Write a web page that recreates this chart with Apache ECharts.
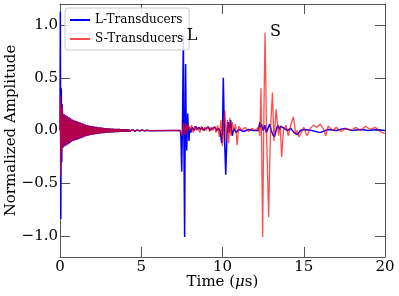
<!DOCTYPE html>
<html><head><meta charset="utf-8">
<script src="https://cdn.jsdelivr.net/npm/echarts@6/dist/echarts.min.js"></script>
<style>html,body{margin:0;padding:0;background:#fff}#c{width:399px;height:296px}</style>
</head><body><div id="c"></div>
<script>
const seriesNames = ['L-Transducers', 'S-Transducers'];
const xTicks = [0, 5, 10, 15, 20];
const yTicks = [-1.0, -0.5, 0.0, 0.5, 1.0];
const peakLabels = [['L', 8.12, 0.9], ['S', 13.26, 0.94]];

// Shared ring-down (both transducers overlap here)
const ringTimes = [0.15,0.2,0.25,0.3,0.35,0.4,0.45,0.5,0.55,0.6,
0.65,0.7,0.75,0.8,0.85,0.9,0.95,1.0,1.05,1.1,
1.15,1.2,1.25,1.3,1.35,1.4,1.45,1.5,1.55,1.6,
1.65,1.7,1.75,1.8,1.85,1.9,1.95,2.0,2.05,2.1,
2.15,2.2,2.25,2.3,2.35,2.4,2.45,2.5,2.55,2.6,
2.65,2.7,2.75,2.8,2.85,2.9,2.95,3.0,3.05,3.1,
3.15,3.2,3.25,3.3,3.35,3.4,3.45,3.5,3.55,3.6,
3.65,3.7,3.75,3.8,3.85,3.9,3.95,4.0,4.05,4.1,
4.15,4.2,4.25,4.3,4.35,4.4,4.45,4.5,4.55,4.6,
4.65,4.7,4.75,4.8,4.85,4.9,4.95,5.0,5.05,5.1,
5.15,5.2,5.25,5.3,5.35,5.4,5.45,5.5];
const ringValues = [0.18,-0.16,0.155,-0.15,0.145,-0.14,0.135,-0.13,0.125,-0.12,
0.115,-0.11,0.105,-0.10,0.098,-0.095,0.092,-0.09,0.087,-0.084,
0.081,-0.078,0.075,-0.072,0.069,-0.066,0.063,-0.06,0.057,-0.054,
0.052,-0.05,0.048,-0.046,0.044,-0.042,0.041,-0.04,0.039,-0.037,
0.036,-0.035,0.034,-0.032,0.031,-0.03,0.029,-0.028,0.027,-0.026,
0.025,-0.024,0.023,-0.022,0.022,-0.021,0.021,-0.02,0.019,-0.019,
0.018,-0.018,0.017,-0.017,0.016,-0.016,0.015,-0.015,0.014,-0.014,
0.014,-0.013,0.013,-0.013,0.012,-0.012,0.012,-0.011,0.011,-0.011,
0.01,-0.01,0.01,-0.009,0.009,-0.009,0.008,-0.008,0.008,-0.007,
0.007,-0.007,0.006,-0.006,0.006,-0.005,0.005,-0.005,0.005,-0.004,
0.004,-0.004,0.003,-0.003,0.003,-0.002,0.002,-0.002];

const lHead = [[0,0],[0.02,1.13],[0.05,-0.84],[0.08,0.4],[0.11,-0.3],[0.13,0.25]];
const sHead = [[0,0],[0.02,0.33],[0.05,-0.43],[0.08,0.25],[0.11,-0.2],[0.13,0.22]];

const lTail = [[5.6,0],[7.0,0],[7.4,0.0],[7.44,-0.05],[7.49,-0.39],[7.54,0.1],[7.59,0.9],[7.63,-0.2],[7.67,-1.01],[7.7,0.0],[7.73,0.63],[7.77,-0.1],[7.8,-0.19],[7.83,0.05],[7.86,0.16],[7.9,0.0],[7.94,-0.1],[7.98,0.03],[8.05,-0.02],[8.15,0.03],[8.25,0.0],[8.35,0.04],[8.45,0.01],[8.55,0.03],[8.65,0.01],[8.75,0.03],[8.85,0.0],[8.95,0.02],[9.05,0.01],[9.15,0.03],[9.25,0.0],[9.35,0.02],[9.45,0.01],[9.55,0.03],[9.65,0.0],[9.75,0.02],[9.85,0.0],[9.95,-0.12],[10.0,0.0],[10.05,0.5],[10.12,-0.05],[10.2,-0.42],[10.27,-0.05],[10.35,0.08],[10.42,-0.02],[10.5,0.1],[10.6,-0.05],[10.7,0.02],[10.85,-0.02],[11.0,0.01],[11.3,-0.01],[11.6,0.01],[11.9,0.0],[12.2,0.0],[12.3,0.08],[12.35,0.03],[12.4,0.06],[12.5,0.0],[12.6,0.05],[12.7,-0.02],[12.8,0.02],[12.9,0.06],[13.0,0.0],[13.1,-0.04],[13.2,-0.06],[13.3,0.0],[13.4,0.05],[13.5,0.01],[13.6,0.04],[13.8,0.02],[14.0,0.0],[14.2,0.02],[14.4,-0.02],[14.6,-0.04],[14.8,0.0],[15.0,0.01],[15.5,0.0],[16,-0.02],[16.5,0.01],[17,0.0],[17.5,0.02],[18,0.0],[18.5,0.01],[19,0.0],[19.5,0.01],[20,0.0]];

const sTail = [[5.6,0],[7.4,0],[7.5,-0.05],[7.6,0.07],[7.68,-0.04],[7.75,0.07],[7.82,-0.03],[7.9,0.06],[8.0,0.0],[8.1,0.05],[8.2,-0.02],[8.3,0.04],[8.4,0.0],[8.5,0.03],[8.6,-0.02],[8.7,0.04],[8.8,0.0],[8.9,0.03],[9.0,0.0],[9.1,0.04],[9.2,-0.01],[9.3,0.03],[9.4,0.0],[9.5,0.04],[9.6,-0.02],[9.7,0.05],[9.8,-0.06],[9.9,0.1],[10.0,-0.15],[10.08,0.1],[10.15,0.19],[10.22,-0.1],[10.3,0.1],[10.38,-0.12],[10.45,0.12],[10.52,-0.05],[10.6,0.08],[10.7,0.0],[10.8,0.06],[10.9,-0.14],[11.0,0.04],[11.2,0.0],[11.4,0.03],[11.6,-0.01],[11.8,0.02],[12.0,0.0],[12.2,0.03],[12.3,-0.05],[12.37,0.4],[12.47,-1.01],[12.55,0.2],[12.62,0.93],[12.72,-0.1],[12.84,-0.82],[12.95,0.0],[13.07,0.36],[13.17,-0.1],[13.3,0.2],[13.45,-0.05],[13.55,0.05],[13.64,-0.25],[13.75,0.0],[13.9,0.05],[14.05,-0.05],[14.2,0.05],[14.36,0.13],[14.5,-0.03],[14.6,0.0],[14.7,-0.06],[14.85,-0.02],[15.0,0.03],[15.2,-0.05],[15.4,0.02],[15.6,0.05],[15.8,0.03],[16.0,0.06],[16.2,0.02],[16.35,-0.05],[16.5,0.04],[16.8,0.0],[17.0,0.03],[17.3,-0.01],[17.6,0.02],[17.9,0.0],[18.2,0.03],[18.5,0.0],[18.8,0.04],[19.1,0.01],[19.4,0.03],[19.7,-0.01],[20,-0.03]];

const ring = ringTimes.map((t, i) => [t, ringValues[i]]);
const lData = lHead.concat(ring, lTail);
const sData = sHead.concat(ring, sTail);

const FONT = 'DejaVu Serif';
const AX = '#555';
const fmt = v => (v < 0 ? '\u2212' : '') + Math.abs(v).toFixed(1);

const chart = echarts.init(document.getElementById('c'), null, {renderer: 'canvas'});
const baseX = {
  type: 'value', min: 0, max: 20, interval: 5,
  axisLine: {show: true, onZero: false, lineStyle: {color: AX, width: 1}},
  axisTick: {show: true, inside: true, length: 10, lineStyle: {color: AX}, customValues: xTicks},
  splitLine: {show: false}
};
const baseY = {
  type: 'value', min: -1.2, max: 1.2,
  axisLine: {show: true, onZero: false, lineStyle: {color: AX, width: 1}},
  axisTick: {show: true, inside: true, length: 10, lineStyle: {color: AX}, customValues: yTicks},
  splitLine: {show: false}
};
chart.setOption({
  animation: false,
  grid: {left: 60, right: 14, top: 4, bottom: 39, containLabel: false, outerBoundsMode: 'none'},
  legend: {
    left: 65, top: 8, orient: 'vertical', padding: [5, 6, 4, 5], itemGap: 5,
    itemWidth: 20, itemHeight: 2, icon: 'rect',
    borderColor: '#ccc', borderWidth: 1, borderRadius: 3, backgroundColor: 'rgba(255,255,255,0.85)',
    textStyle: {fontFamily: FONT, fontSize: 12, color: '#000', lineHeight: 14},
    data: seriesNames
  },
  xAxis: [
    Object.assign({}, baseX, {
      position: 'bottom',
      axisLabel: {show: true, fontFamily: FONT, fontSize: 15, color: '#000', margin: 3, customValues: xTicks},
      name: '{n|Time (}{i|\u03bc}{n|s)}', nameLocation: 'middle', nameGap: 18, nameMoveOverlap: false,
      nameTextStyle: {rich: {n: {fontFamily: FONT, fontSize: 15, color: '#000'}, i: {fontFamily: FONT, fontSize: 15, fontStyle: 'italic', color: '#000'}}}
    }),
    Object.assign({}, baseX, {position: 'top', axisLabel: {show: false}})
  ],
  yAxis: [
    Object.assign({}, baseY, {
      position: 'left',
      axisLabel: {show: true, fontFamily: FONT, fontSize: 15, color: '#000', margin: 2, customValues: yTicks, formatter: fmt},
      name: 'Normalized Amplitude', nameLocation: 'middle', nameGap: 41, nameMoveOverlap: false,
      nameTextStyle: {fontFamily: FONT, fontSize: 15, color: '#000'}
    }),
    Object.assign({}, baseY, {position: 'right', axisLabel: {show: false}})
  ],
  series: [
    {
      name: seriesNames[0], type: 'line', data: lData, xAxisIndex: 0, yAxisIndex: 0,
      showSymbol: false, symbol: 'none', sampling: false,
      lineStyle: {color: '#0000ff', width: 1.5}, itemStyle: {color: '#0000ff'}, z: 2,
      markPoint: {
        symbol: 'circle', symbolSize: 1, itemStyle: {color: 'rgba(0,0,0,0)'},
        label: {show: true, position: 'inside', fontFamily: FONT, fontSize: 16, color: '#000', formatter: p => p.name},
        data: peakLabels.map(d => ({name: d[0], coord: [d[1], d[2]]}))
      }
    },
    {
      name: seriesNames[1], type: 'line', data: sData, xAxisIndex: 0, yAxisIndex: 0,
      showSymbol: false, symbol: 'none', sampling: false,
      lineStyle: {color: 'rgba(255,0,0,0.7)', width: 1.3}, itemStyle: {color: 'rgba(255,0,0,0.7)'}, z: 3
    }
  ]
});
</script>
</body></html>
